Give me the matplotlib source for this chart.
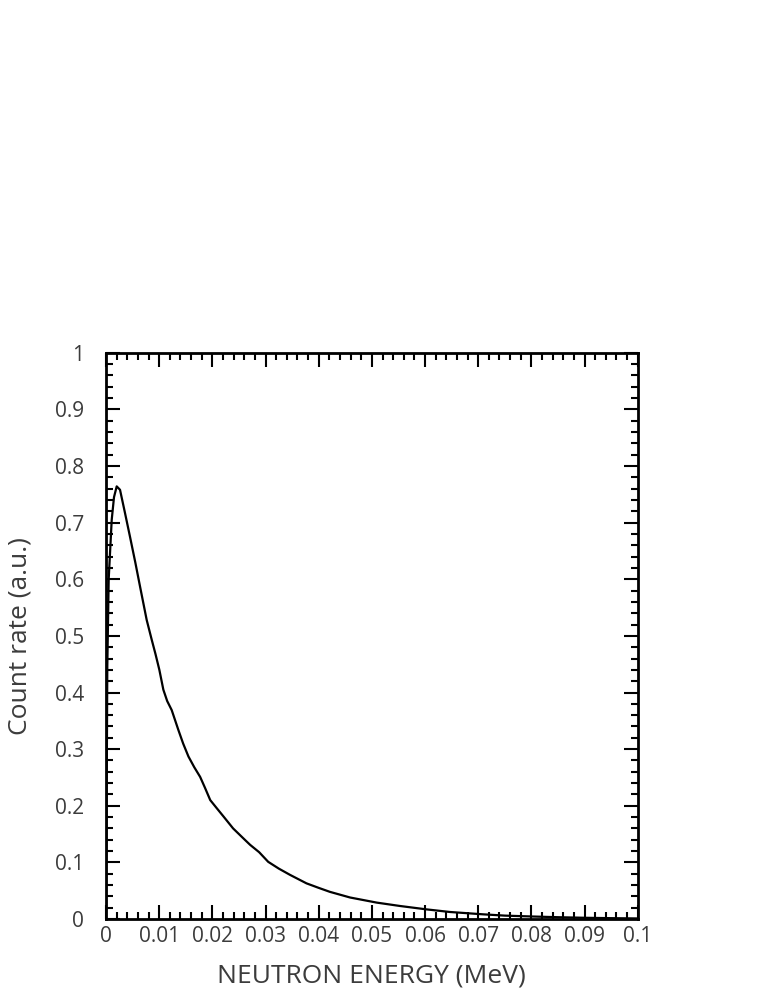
import matplotlib
matplotlib.use("Agg")
import matplotlib.pyplot as plt
from matplotlib.ticker import MultipleLocator

# Data
energy_mev = [0.0, 0.00024, 0.0005, 0.00107, 0.0015, 0.00201, 0.00263, 0.0035, 0.00451,
              0.0055, 0.0064, 0.00765, 0.0086, 0.0093, 0.01003, 0.01078, 0.0115, 0.01235, 0.0136,
              0.0145, 0.0155, 0.0166, 0.0177, 0.0186, 0.0196, 0.0208, 0.0221, 0.0239, 0.0261, 0.0271,
              0.0288, 0.0305, 0.0325, 0.0346, 0.0377, 0.04, 0.0421, 0.0459, 0.0509, 0.0553, 0.0603,
              0.0647, 0.0709, 0.075, 0.08, 0.085, 0.09, 0.095, 0.1]
count_rate = [0.0, 0.446, 0.6, 0.705, 0.745, 0.764, 0.758, 0.72, 0.675,
              0.63, 0.587, 0.528, 0.493, 0.468, 0.44, 0.405, 0.385, 0.369, 0.334,
              0.31, 0.287, 0.268, 0.251, 0.232, 0.21, 0.196, 0.181, 0.160, 0.140, 0.131,
              0.118, 0.101, 0.089, 0.078, 0.063, 0.055, 0.048, 0.038, 0.029, 0.023, 0.017,
              0.0124, 0.0083, 0.006, 0.0045, 0.0032, 0.0022, 0.0015, 0.001]
x_ticks = [0, 0.01, 0.02, 0.03, 0.04, 0.05, 0.06, 0.07, 0.08, 0.09, 0.1]
x_tick_labels = ["0", "0.01", "0.02", "0.03", "0.04", "0.05", "0.06", "0.07", "0.08", "0.09", "0.1"]
y_ticks = [0, 0.1, 0.2, 0.3, 0.4, 0.5, 0.6, 0.7, 0.8, 0.9, 1.0]
y_tick_labels = ["0", "0.1", "0.2", "0.3", "0.4", "0.5", "0.6", "0.7", "0.8", "0.9", "1"]

plt.rcParams['font.family'] = ['Open Sans', 'DejaVu Sans']
text_color = '#3c3c3c'

fig = plt.figure(figsize=(7.65, 9.9), dpi=100)
ax = fig.add_axes([0.1386, 0.0717, 0.695, 0.572])

ax.plot(energy_mev, count_rate, color='black', linewidth=1.6)

ax.set_xlim(0, 0.1)
ax.set_ylim(0, 1)
ax.set_xticks(x_ticks)
ax.set_xticklabels(x_tick_labels)
ax.set_yticks(y_ticks)
ax.set_yticklabels(y_tick_labels)
ax.xaxis.set_minor_locator(MultipleLocator(0.002))
ax.yaxis.set_minor_locator(MultipleLocator(0.02))

ax.tick_params(which='both', direction='in', top=True, right=True, width=1.5, color='black')
ax.tick_params(which='major', length=10)
ax.tick_params(which='minor', length=5)
ax.tick_params(axis='x', which='major', pad=5, labelsize=15, labelcolor=text_color)
ax.tick_params(axis='y', which='major', pad=16, labelsize=15, labelcolor=text_color)

for s in ax.spines.values():
    s.set_linewidth(2)

ax.set_xlabel("NEUTRON ENERGY (MeV)", fontsize=19, color=text_color, labelpad=12)
ax.set_ylabel("Count rate (a.u.)", fontsize=19, color=text_color, labelpad=16)

fig.savefig("out.png", dpi=100)
